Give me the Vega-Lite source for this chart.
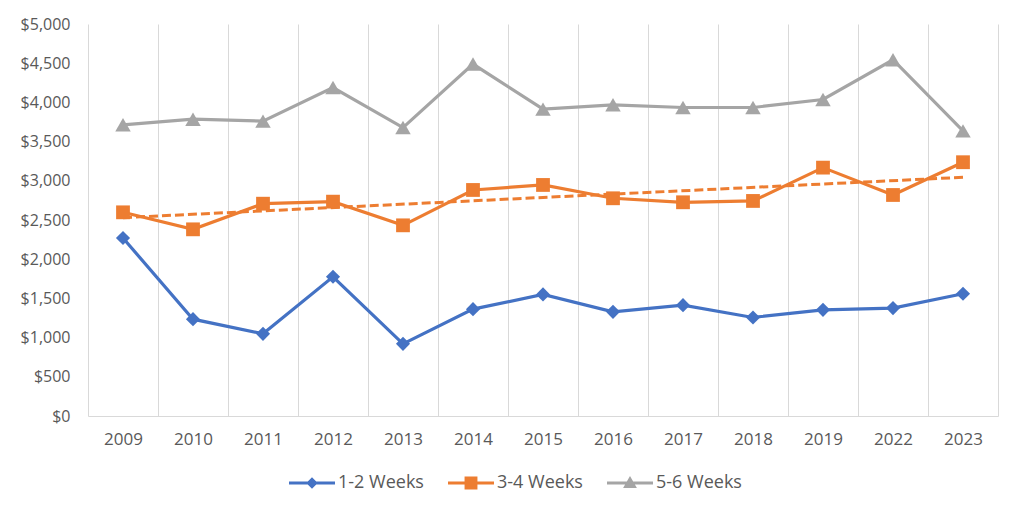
{
  "$schema": "https://vega.github.io/schema/vega-lite/v6.json",
  "width": 910,
  "height": 392,
  "autosize": "none",
  "padding": {"left": 88, "top": 24, "right": 26, "bottom": 98},
  "background": "white",
  "config": {
    "view": {"stroke": null},
    "font": "Open Sans"
  },
  "datasets": {
    "main": [
      {"year": "2009", "series": "1-2 Weeks", "value": 2270},
      {"year": "2010", "series": "1-2 Weeks", "value": 1235},
      {"year": "2011", "series": "1-2 Weeks", "value": 1048},
      {"year": "2012", "series": "1-2 Weeks", "value": 1776},
      {"year": "2013", "series": "1-2 Weeks", "value": 920},
      {"year": "2014", "series": "1-2 Weeks", "value": 1363},
      {"year": "2015", "series": "1-2 Weeks", "value": 1551},
      {"year": "2016", "series": "1-2 Weeks", "value": 1329},
      {"year": "2017", "series": "1-2 Weeks", "value": 1414},
      {"year": "2018", "series": "1-2 Weeks", "value": 1257},
      {"year": "2019", "series": "1-2 Weeks", "value": 1354},
      {"year": "2022", "series": "1-2 Weeks", "value": 1376},
      {"year": "2023", "series": "1-2 Weeks", "value": 1559},
      {"year": "2009", "series": "3-4 Weeks", "value": 2598},
      {"year": "2010", "series": "3-4 Weeks", "value": 2381},
      {"year": "2011", "series": "3-4 Weeks", "value": 2708},
      {"year": "2012", "series": "3-4 Weeks", "value": 2734},
      {"year": "2013", "series": "3-4 Weeks", "value": 2432},
      {"year": "2014", "series": "3-4 Weeks", "value": 2883},
      {"year": "2015", "series": "3-4 Weeks", "value": 2947},
      {"year": "2016", "series": "3-4 Weeks", "value": 2777},
      {"year": "2017", "series": "3-4 Weeks", "value": 2726},
      {"year": "2018", "series": "3-4 Weeks", "value": 2743},
      {"year": "2019", "series": "3-4 Weeks", "value": 3168},
      {"year": "2022", "series": "3-4 Weeks", "value": 2819},
      {"year": "2023", "series": "3-4 Weeks", "value": 3237},
      {"year": "2009", "series": "5-6 Weeks", "value": 3714},
      {"year": "2010", "series": "5-6 Weeks", "value": 3786},
      {"year": "2011", "series": "5-6 Weeks", "value": 3761},
      {"year": "2012", "series": "5-6 Weeks", "value": 4190},
      {"year": "2013", "series": "5-6 Weeks", "value": 3679},
      {"year": "2014", "series": "5-6 Weeks", "value": 4489},
      {"year": "2015", "series": "5-6 Weeks", "value": 3914},
      {"year": "2016", "series": "5-6 Weeks", "value": 3969},
      {"year": "2017", "series": "5-6 Weeks", "value": 3935},
      {"year": "2018", "series": "5-6 Weeks", "value": 3935},
      {"year": "2019", "series": "5-6 Weeks", "value": 4037},
      {"year": "2022", "series": "5-6 Weeks", "value": 4544},
      {"year": "2023", "series": "5-6 Weeks", "value": 3637}
    ],
    "trend": [
      {"year": "2009", "value": 2530},
      {"year": "2023", "value": 3045}
    ]
  },
  "encoding": {
    "x": {
      "field": "year",
      "type": "ordinal",
      "bandPosition": 0.5,
      "scale": {
        "type": "band",
        "paddingInner": 0,
        "paddingOuter": 0,
        "domain": ["2009", "2010", "2011", "2012", "2013", "2014", "2015", "2016", "2017", "2018", "2019", "2022", "2023"]
      },
      "axis": {
        "title": null,
        "tickBand": "extent",
        "grid": true,
        "gridColor": "#D9D9D9",
        "gridWidth": 1,
        "domain": true,
        "domainColor": "#D9D9D9",
        "domainWidth": 1,
        "ticks": false,
        "tickSize": 0,
        "labelAngle": 0,
        "labelFont": "Open Sans",
        "labelFontSize": 17,
        "labelColor": "#595959",
        "labelPadding": 15
      }
    },
    "y": {
      "field": "value",
      "type": "quantitative",
      "scale": {"domain": [0, 5000], "nice": false},
      "axis": {
        "title": null,
        "values": [0, 500, 1000, 1500, 2000, 2500, 3000, 3500, 4000, 4500, 5000],
        "format": "$,.0f",
        "grid": false,
        "domain": false,
        "ticks": false,
        "tickSize": 0,
        "labelFont": "Open Sans",
        "labelFontSize": 16,
        "labelColor": "#595959",
        "labelPadding": 18
      }
    }
  },
  "layer": [
    {
      "data": {"name": "trend"},
      "mark": {"type": "line", "color": "#ED7D31", "strokeWidth": 3, "strokeDash": [9, 4]},
      "encoding": {}
    },
    {
      "data": {"name": "main"},
      "mark": {"type": "line", "strokeWidth": 3.2},
      "encoding": {
        "color": {
          "field": "series",
          "type": "nominal",
          "scale": {"domain": ["1-2 Weeks", "3-4 Weeks", "5-6 Weeks"], "range": ["#4472C4", "#ED7D31", "#A5A5A5"]},
          "legend": {
            "title": null,
            "orient": "none",
            "legendX": 201,
            "legendY": 436,
            "direction": "horizontal",
            "symbolSize": 2116,
            "symbolStrokeWidth": 0,
            "labelFont": "Open Sans",
            "labelFontSize": 18,
            "labelColor": "#595959",
            "labelOffset": 3,
            "columnPadding": 24,
            "encode": {
              "symbols": {
                "update": {
                  "shape": {"signal": "datum.value === '1-2 Weeks' ? 'M-1,-0.065H1V0.065H-1Z M0,-0.25L0.25,0L0,0.25L-0.25,0Z' : datum.value === '3-4 Weeks' ? 'M-1,-0.065H1V0.065H-1Z M-0.28,-0.28H0.28V0.28H-0.28Z' : 'M-1,-0.065H1V0.065H-1Z M0,-0.3L0.3,0.22H-0.3Z'"},
                  "fill": {"scale": "color", "field": "value"},
                  "stroke": {"value": "transparent"},
                  "strokeWidth": {"value": 0},
                  "opacity": {"value": 1}
                }
              }
            }
          }
        }
      }
    },
    {
      "data": {"name": "main"},
      "transform": [{"filter": "datum.series === '1-2 Weeks'"}],
      "mark": {"type": "point", "filled": true, "opacity": 1, "shape": "diamond", "size": 200, "color": "#4472C4"}
    },
    {
      "data": {"name": "main"},
      "transform": [{"filter": "datum.series === '3-4 Weeks'"}],
      "mark": {"type": "point", "filled": true, "opacity": 1, "shape": "square", "size": 190, "color": "#ED7D31"}
    },
    {
      "data": {"name": "main"},
      "transform": [{"filter": "datum.series === '5-6 Weeks'"}],
      "mark": {"type": "point", "filled": true, "opacity": 1, "shape": "triangle-up", "size": 240, "color": "#A5A5A5"}
    }
  ]
}
